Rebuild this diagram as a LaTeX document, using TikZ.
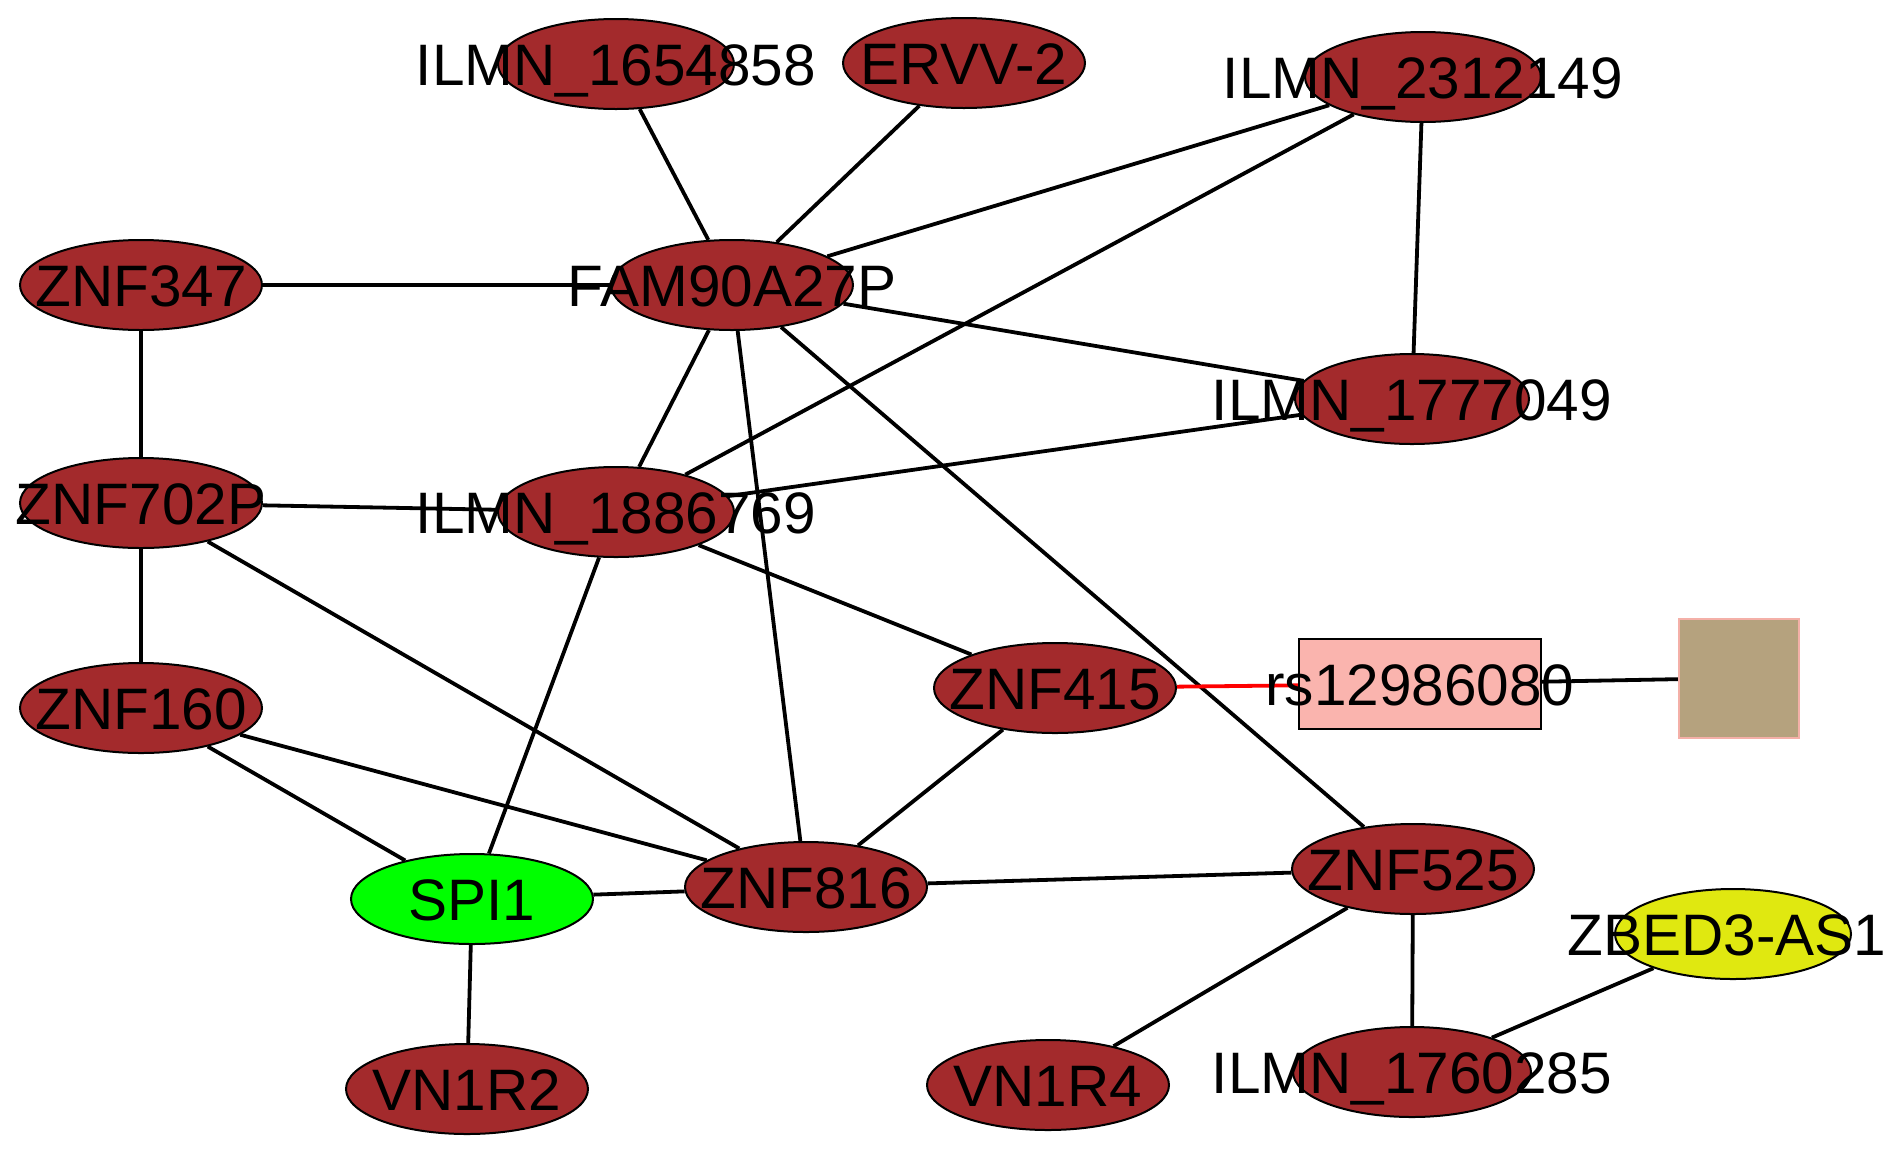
\documentclass[tikz,border=0pt]{standalone}
\usepackage{fontspec}
\setmainfont{Liberation Sans}
\usetikzlibrary{shapes.geometric}
\pgfdeclarelayer{bg}
\pgfsetlayers{bg,main}
\definecolor{nodebrown}{RGB}{163,42,44}
\definecolor{nodegreen}{RGB}{0,255,0}
\definecolor{nodeyellow}{RGB}{224,232,16}
\definecolor{snppink}{RGB}{250,180,174}
\definecolor{tanfill}{RGB}{181,162,126}
\definecolor{tanborder}{RGB}{244,176,168}
\tikzset{
  ell/.style={ellipse, draw=black, line width=2pt, fill=nodebrown, inner sep=0pt, minimum width=242pt, minimum height=90pt},
  lbl/.style={font=\fontsize{58.5pt}{70pt}\selectfont, inner sep=0pt, text height=42pt, text depth=0pt, anchor=center},
  link/.style={draw=black, line width=3.8pt},
  redlink/.style={draw=red, line width=3.8pt}
}
\begin{document}
\begin{tikzpicture}[x=1pt,y=-1pt]
\useasboundingbox (0,0) rectangle (1890,1152);
\begin{pgfonlayer}{bg}
\fill[white] (0,0) rectangle (1890,1152);
\end{pgfonlayer}
% shapes
\node[ell, minimum width=236pt] (i1654858) at (616,64) {};
\node[ell] (ervv2) at (964,63) {};
\node[ell, minimum width=236pt] (i2312149) at (1423,77) {};
\node[ell] (znf347) at (141,285) {};
\node[ell] (fam90) at (732,285) {};
\node[ell, minimum width=234pt] (i1777049) at (1412,399) {};
\node[ell] (znf702) at (141,503) {};
\node[ell, minimum width=236pt] (i1886769) at (616,512) {};
\node[ell] (znf415) at (1055,688) {};
\node[rectangle, draw=black, line width=2pt, fill=snppink, minimum width=242pt, minimum height=90pt, inner sep=0pt] (rs) at (1420,684) {};
\node[rectangle, draw=tanborder, line width=2pt, fill=tanfill, minimum width=120pt, minimum height=119pt, inner sep=0pt] (tan) at (1739,678) {};
\node[ell] (znf160) at (141,708) {};
\node[ell, fill=nodegreen] (spi1) at (472,899) {};
\node[ell] (znf816) at (806,887) {};
\node[ell] (znf525) at (1413,869) {};
\node[ell, fill=nodeyellow, minimum width=236pt] (zbed3) at (1733,934) {};
\node[ell] (vn1r2) at (467,1089) {};
\node[ell] (vn1r4) at (1048,1085) {};
\node[ell, minimum width=238pt] (i1760285) at (1412,1072) {};
% edges
\begin{pgfonlayer}{bg}
\draw[link] (i1654858) -- (fam90);
\draw[link] (ervv2) -- (fam90);
\draw[link] (i2312149) -- (fam90);
\draw[link] (i2312149) -- (i1886769);
\draw[link] (i2312149) -- (i1777049);
\draw[link] (znf347) -- (fam90);
\draw[link] (znf347) -- (znf702);
\draw[link] (fam90) -- (i1777049);
\draw[link] (fam90) -- (i1886769);
\draw[link] (fam90) -- (znf816);
\draw[link] (fam90) -- (znf525);
\draw[link] (znf702) -- (i1886769);
\draw[link] (znf702) -- (znf160);
\draw[link] (znf702) -- (znf816);
\draw[link] (i1886769) -- (i1777049);
\draw[link] (i1886769) -- (znf415);
\draw[link] (i1886769) -- (spi1);
\draw[redlink] (znf415) -- (rs);
\draw[link] (rs) -- (tan);
\draw[link] (znf415) -- (znf816);
\draw[link] (znf160) -- (spi1);
\draw[link] (znf160) -- (znf816);
\draw[link] (spi1) -- (znf816);
\draw[link] (spi1) -- (vn1r2);
\draw[link] (znf816) -- (znf525);
\draw[link] (znf525) -- (vn1r4);
\draw[link] (znf525) -- (i1760285);
\draw[link] (i1760285) -- (zbed3);
\end{pgfonlayer}
% labels
\node[lbl] (t1) at (i1654858.center) {ILMN\_1654858};
\node[lbl] (t2) at (ervv2.center) {ERVV-2};
\node[lbl] (t3) at (i2312149.center) {ILMN\_2312149};
\node[lbl] (t4) at (znf347.center) {ZNF347};
\node[lbl] (t5) at (fam90.center) {FAM90A27P};
\node[lbl] (t6) at (i1777049.center) {ILMN\_1777049};
\node[lbl] (t7) at (znf702.center) {ZNF702P};
\node[lbl] (t8) at (i1886769.center) {ILMN\_1886769};
\node[lbl] (t9) at (znf415.center) {ZNF415};
\node[lbl] (t10) at (rs.center) {rs12986080};
\node[lbl] (t11) at (znf160.center) {ZNF160};
\node[lbl] (t12) at (spi1.center) {SPI1};
\node[lbl] (t13) at (znf816.center) {ZNF816};
\node[lbl] (t14) at (znf525.center) {ZNF525};
\node[lbl] (t15) at ([xshift=-6pt]zbed3.center) {ZBED3-AS1};
\node[lbl] (t16) at (vn1r2.center) {VN1R2};
\node[lbl] (t17) at (vn1r4.center) {VN1R4};
\node[lbl] (t18) at (i1760285.center) {ILMN\_1760285};
\end{tikzpicture}
\end{document}
